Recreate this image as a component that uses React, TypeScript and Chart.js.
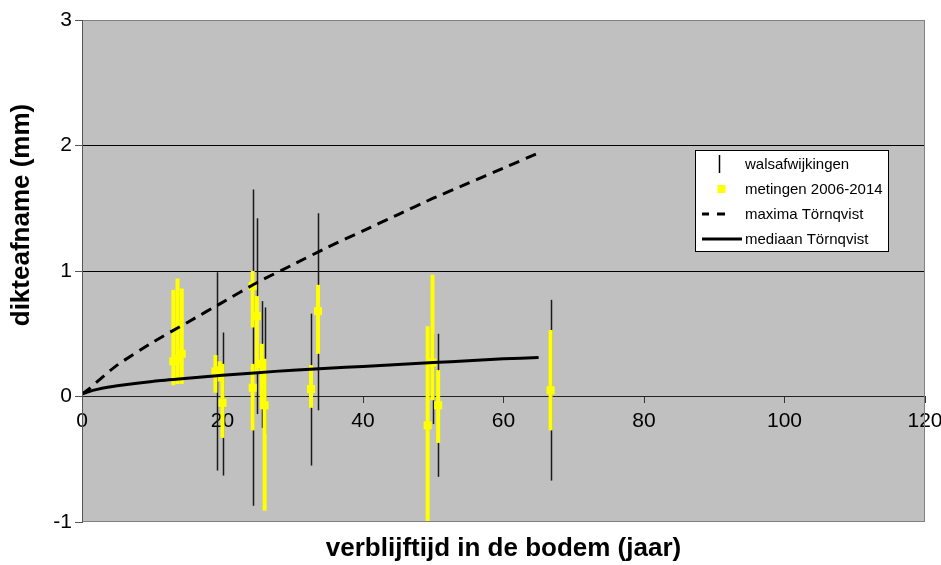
import { useEffect, useRef } from "react";
import { Chart, registerables } from "chart.js";

Chart.register(...registerables);

// walsafwijkingen (black error bars only)
const walsX = [19.2, 20.0, 24.3, 24.9, 25.6, 26.0, 32.6, 33.6, 50.0, 50.7, 66.7];
const walsLow = [-0.59, -0.63, -0.87, -0.14, -0.25, -0.3, -0.55, -0.11, -0.22, -0.64, -0.67];
const walsHigh = [0.99, 0.51, 1.65, 1.42, 0.76, 0.71, 0.66, 1.46, 0.5, 0.5, 0.77];

// metingen 2006-2014 (yellow markers with yellow error bars)
const metX = [13.0, 13.6, 14.2, 19.0, 19.6, 20.0, 24.3, 24.3, 24.9, 25.6, 26.0, 32.6, 33.6, 49.2, 49.9, 50.7, 66.7];
const metY = [0.28, 0.3, 0.34, 0.2, 0.21, -0.05, 0.88, 0.07, 0.64, 0.26, -0.07, 0.06, 0.68, -0.23, 0.27, -0.07, 0.05];
const metLow = [0.09, 0.1, 0.1, 0.03, 0.12, -0.33, 0.55, -0.27, 0.18, -0.1, -0.91, -0.09, 0.34, -1.01, -0.03, -0.37, -0.27];
const metHigh = [0.85, 0.94, 0.86, 0.33, 0.28, 0.26, 1.0, 0.26, 0.8, 0.42, 0.3, 0.25, 0.89, 0.56, 0.97, 0.21, 0.53];

// Törnqvist curves
const curveX = [0, 1, 2, 5, 10, 15, 20, 25, 30, 35, 40, 45, 50, 55, 60, 65];
const maxY = [0.02, 0.06, 0.11, 0.25, 0.43, 0.59, 0.75, 0.91, 1.05, 1.19, 1.32, 1.45, 1.58, 1.7, 1.82, 1.94];
const medY = [0.02, 0.04, 0.055, 0.085, 0.12, 0.145, 0.17, 0.19, 0.21, 0.225, 0.24, 0.255, 0.27, 0.285, 0.3, 0.31];

const xMin = 0, xMax = 120, xStep = 20;
const yMin = -1, yMax = 3, yStep = 1;
const yGridValues = [1, 2];

const legendLabels = ["walsafwijkingen", "metingen 2006-2014", "maxima Törnqvist", "mediaan Törnqvist"];
const xTitle = "verblijftijd in de bodem (jaar)";
const yTitle = "dikteafname (mm)";

const FONT = "'Liberation Sans', Arial, sans-serif";

const bgPlugin = {
  id: "bg",
  beforeDraw(chart: any) {
    const { ctx, chartArea: a } = chart;
    ctx.save();
    ctx.fillStyle = "#ffffff";
    ctx.fillRect(0, 0, chart.width, chart.height);
    ctx.fillStyle = "#c0c0c0";
    ctx.fillRect(a.left, a.top, a.right - a.left, a.bottom - a.top);
    ctx.restore();
  },
};

const errorBarPlugin = {
  id: "errbars",
  beforeDatasetsDraw(chart: any) {
    const { ctx, chartArea: a, scales } = chart;
    const xs = scales.x, ys = scales.y;
    ctx.save();
    ctx.beginPath();
    ctx.rect(a.left, a.top, a.right - a.left, a.bottom - a.top);
    ctx.clip();
    ctx.strokeStyle = "#1a1a1a";
    ctx.lineWidth = 1.5;
    walsX.forEach((x, i) => {
      const px = Math.round(xs.getPixelForValue(x)) + 0.5;
      ctx.beginPath();
      ctx.moveTo(px, ys.getPixelForValue(walsLow[i]));
      ctx.lineTo(px, ys.getPixelForValue(walsHigh[i]));
      ctx.stroke();
    });
    ctx.strokeStyle = "#ffff00";
    ctx.lineWidth = 4;
    metX.forEach((x, i) => {
      const px = xs.getPixelForValue(x);
      ctx.beginPath();
      ctx.moveTo(px, ys.getPixelForValue(metLow[i]));
      ctx.lineTo(px, ys.getPixelForValue(metHigh[i]));
      ctx.stroke();
    });
    ctx.restore();
  },
};

const overlayPlugin = {
  id: "overlay",
  afterDraw(chart: any) {
    const { ctx, chartArea: a } = chart;
    ctx.save();
    // plot border
    ctx.strokeStyle = "#808080";
    ctx.lineWidth = 1;
    ctx.strokeRect(a.left + 0.5, a.top + 0.5, a.right - a.left - 1, a.bottom - a.top - 1);
    ctx.strokeStyle = "#555";
    ctx.beginPath();
    ctx.moveTo(a.left + 0.5, a.top);
    ctx.lineTo(a.left + 0.5, a.bottom);
    ctx.stroke();

    // axis titles
    ctx.fillStyle = "#000";
    ctx.font = `bold 26px ${FONT}`;
    ctx.textAlign = "center";
    ctx.textBaseline = "middle";
    ctx.fillText(xTitle, (a.left + a.right) / 2, 549);
    ctx.save();
    ctx.translate(22, 215);
    ctx.rotate(-Math.PI / 2);
    ctx.fillText(yTitle, 0, 0);
    ctx.restore();

    // legend
    const bx = 695.5, by = 150.5, bw = 193, bh = 101;
    ctx.fillStyle = "#ffffff";
    ctx.fillRect(bx, by, bw, bh);
    ctx.strokeStyle = "#000";
    ctx.lineWidth = 1;
    ctx.strokeRect(bx, by, bw, bh);
    const rows = [164, 189, 214, 239];
    ctx.font = `15px ${FONT}`;
    ctx.textAlign = "left";
    ctx.fillStyle = "#000";
    legendLabels.forEach((t, i) => ctx.fillText(t, 745, rows[i] + 1));
    // symbol 1: black vertical line
    ctx.strokeStyle = "#000";
    ctx.lineWidth = 1.5;
    ctx.beginPath();
    ctx.moveTo(719.5, rows[0] - 9);
    ctx.lineTo(719.5, rows[0] + 9);
    ctx.stroke();
    // symbol 2: yellow square
    ctx.fillStyle = "#ffff00";
    ctx.fillRect(717.5, rows[1] - 4, 8, 8);
    // symbol 3: dashes
    ctx.strokeStyle = "#000";
    ctx.lineWidth = 3;
    ctx.beginPath();
    ctx.moveTo(702, rows[2]);
    ctx.lineTo(709, rows[2]);
    ctx.moveTo(717, rows[2]);
    ctx.lineTo(725, rows[2]);
    ctx.stroke();
    // symbol 4: solid line
    ctx.beginPath();
    ctx.moveTo(702, rows[3]);
    ctx.lineTo(742, rows[3]);
    ctx.stroke();
    ctx.restore();
  },
};

export default function App() {
  const ref = useRef<HTMLCanvasElement>(null);
  useEffect(() => {
    if (!ref.current) return;
    const chart = new Chart(ref.current, {
      type: "scatter",
      data: {
        datasets: [
          {
            label: legendLabels[2],
            data: curveX.map((x, i) => ({ x, y: maxY[i] })),
            showLine: true,
            borderColor: "#000",
            borderWidth: 3,
            borderDash: [11, 7],
            pointRadius: 0,
            tension: 0.2,
          },
          {
            label: legendLabels[3],
            data: curveX.map((x, i) => ({ x, y: medY[i] })),
            showLine: true,
            borderColor: "#000",
            borderWidth: 3,
            pointRadius: 0,
            tension: 0.2,
          },
          {
            label: legendLabels[1],
            data: metX.map((x, i) => ({ x, y: metY[i] })),
            backgroundColor: "#ffff00",
            borderWidth: 0,
            pointStyle: "rect",
            pointRadius: 5.7,
          },
        ],
      },
      options: {
        animation: false,
        responsive: false,
        devicePixelRatio: 1,
        layout: { padding: { top: 20, right: 16, bottom: 43, left: 0 } },
        plugins: { legend: { display: false }, tooltip: { enabled: false } },
        scales: {
          x: {
            type: "linear",
            position: { y: 0 } as any,
            min: xMin,
            max: xMax,
            afterFit: (s: any) => {
              s.paddingLeft = 0;
              s.paddingRight = 0;
            },
            ticks: { stepSize: xStep, color: "#000", font: { family: FONT, size: 21 }, padding: 6, maxRotation: 0 },
            grid: { drawOnChartArea: false, drawTicks: true, tickLength: 6, color: "#333" },
            border: { color: "#222", width: 1 },
          },
          y: {
            type: "linear",
            min: yMin,
            max: yMax,
            afterFit: (s: any) => {
              s.width = 82;
            },
            ticks: { stepSize: yStep, color: "#000", font: { family: FONT, size: 21 }, padding: 3 },
            grid: {
              color: (c: any) => (yGridValues.includes(c.tick?.value) ? "#000" : "rgba(0,0,0,0)"),
              tickColor: "#555",
              tickLength: 7,
              lineWidth: 1,
            },
            border: { color: "#555" },
          },
        },
      },
      plugins: [bgPlugin, errorBarPlugin, overlayPlugin],
    });
    return () => chart.destroy();
  }, []);
  return (
    <div style={{ position: "absolute", left: 0, top: 0, width: 941, height: 565 }}>
      <canvas ref={ref} width={941} height={565} />
    </div>
  );
}
